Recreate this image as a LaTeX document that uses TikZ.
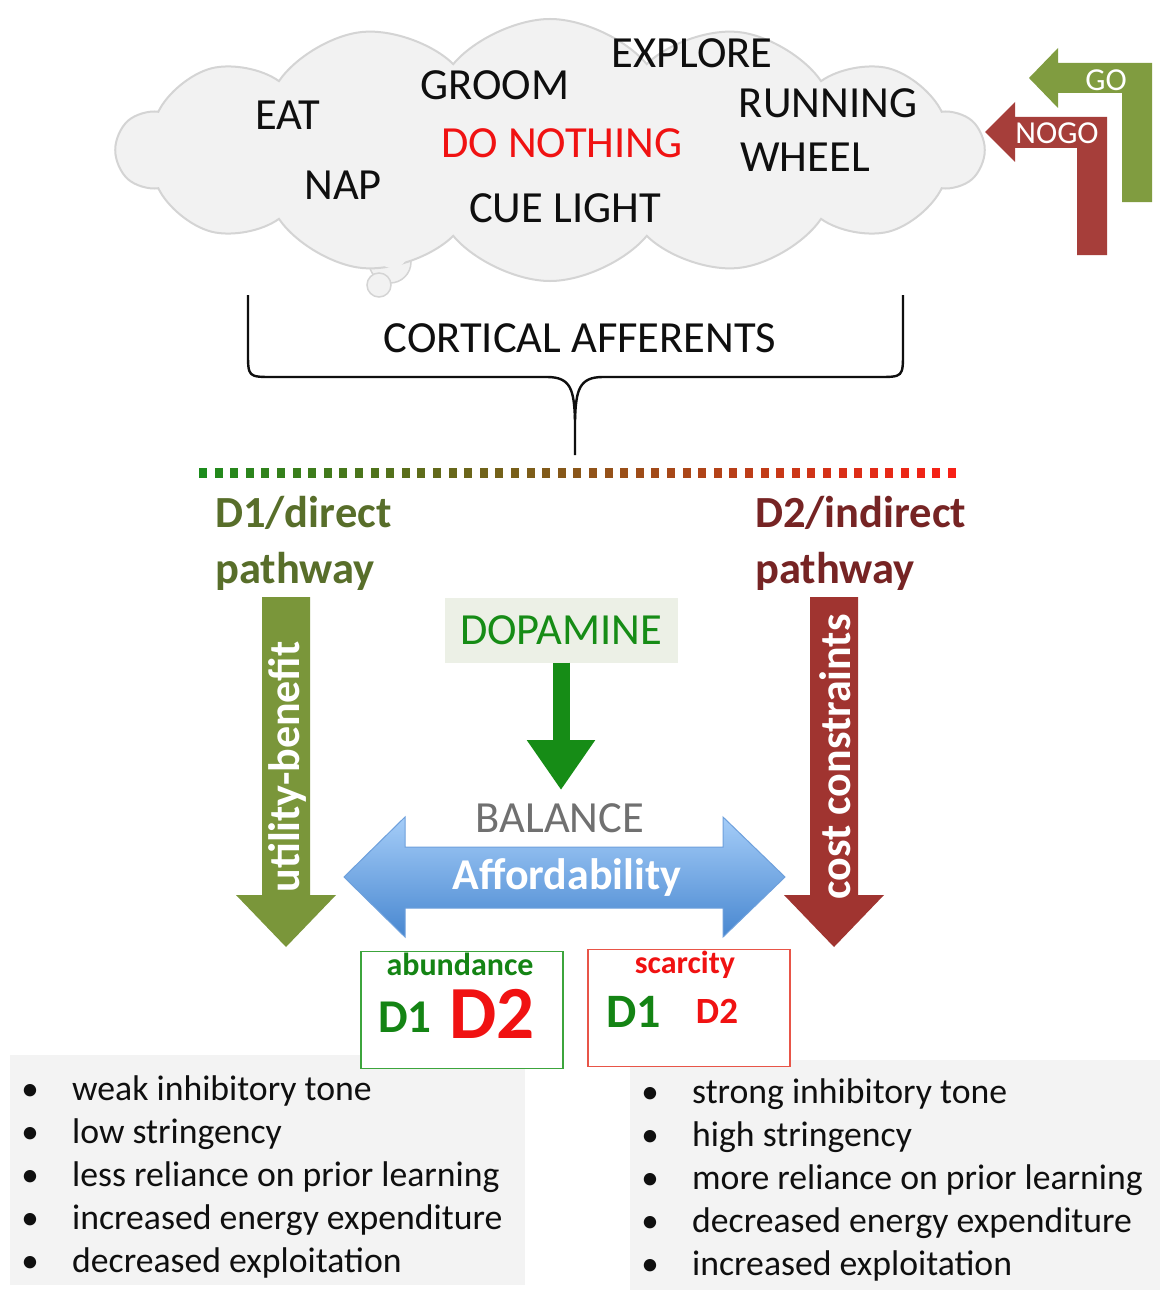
\documentclass[tikz,border=0pt]{standalone}
\usepackage{fontspec}
\setmainfont{Carlito}
\usetikzlibrary{arrows.meta,positioning,shapes.symbols}
\definecolor{ink}{RGB}{15,15,15}
\definecolor{cloudfill}{RGB}{242,242,242}
\definecolor{cloudline}{RGB}{212,212,212}
\definecolor{goG}{RGB}{128,156,64}
\definecolor{nogoR}{RGB}{166,62,58}
\definecolor{utilG}{RGB}{122,150,58}
\definecolor{costR}{RGB}{160,52,48}
\definecolor{pathG}{RGB}{88,110,42}
\definecolor{pathR}{RGB}{118,36,36}
\definecolor{dopaG}{RGB}{22,140,22}
\definecolor{dopaBox}{RGB}{236,240,230}
\definecolor{balGray}{RGB}{112,112,112}
\definecolor{affTop}{RGB}{165,205,248}
\definecolor{affBot}{RGB}{72,135,208}
\definecolor{affLine}{RGB}{110,160,220}
\definecolor{boxG}{RGB}{60,165,60}
\definecolor{boxR}{RGB}{232,85,72}
\definecolor{txtG}{RGB}{20,132,20}
\definecolor{txtR}{RGB}{240,18,18}
\definecolor{panel}{RGB}{243,243,243}
\definecolor{dotG}{RGB}{28,140,28}
\definecolor{dotR}{RGB}{248,32,22}
\tikzset{
  word/.style={font=\fontsize{44.5}{48}\selectfont,text=ink,inner sep=0pt},
  pathlbl/.style={font=\fontsize{44.5}{48}\selectfont\bfseries,inner sep=0pt,anchor=base west},
  onarrow/.style={font=\fontsize{44}{48}\selectfont\bfseries,text=white,inner sep=0pt},
  gotext/.style={font=\fontsize{32}{34}\selectfont,text=white,inner sep=0pt},
  tag/.style={font=\fontsize{32}{34}\selectfont\bfseries,inner sep=0pt,anchor=base},
  dbox/.style={draw,line width=1.6pt,fill=white,minimum width=202pt,minimum height=117pt},
  item/.style={font=\fontsize{35.7}{38}\selectfont,text=ink,inner sep=0pt,anchor=base west},
  bul/.style={font=\fontsize{35}{38}\selectfont,text=ink,inner sep=0pt,anchor=base},
  brace/.style={line width=2.4pt,ink},
  dopa arrow/.style={dopaG,line width=17pt,-{Triangle[length=50pt,width=65pt]}},
}
\begin{document}
\begin{tikzpicture}[x=1pt,y=-1pt]
  \useasboundingbox (0,0) rectangle (1171,1300);
  \fill[white] (0,0) rectangle (1171,1300);

  % thought cloud
  \fill[cloudfill,draw=cloudline,line width=1.5pt] (390,262) circle (21);
  \fill[cloudfill,draw=cloudline,line width=1.5pt] (379,285) circle (12);
  \node[cloud,cloud puffs=14,cloud puff arc=100,aspect=3.4,
    minimum width=866pt,minimum height=262pt,
    fill=cloudfill,draw=cloudline,line width=2pt] (cloud) at (550,150) {};
  \fill[cloudfill] (392,252) circle (16);

  \node[word] (eat)     at (288,115) {EAT};
  \node[word] (groom)   at (495,85)  {GROOM};
  \node[word] (explore) at (692,53)  {EXPLORE};
  \node[word] (running) at (828,103) {RUNNING};
  \node[word] (wheel)   at (805,157) {WHEEL};
  \node[word,text=txtR] (nothing) at (562,143) {DO NOTHING};
  \node[word] (nap)     at (343,185) {NAP};
  \node[word] (cue)     at (565,208) {CUE LIGHT};

  % go / nogo
  \fill[goG] (1152,63) -- (1152,202) -- (1122,202) -- (1122,93) -- (1058,93)
    -- (1058,108) -- (1029,78) -- (1058,48) -- (1058,63) -- cycle;
  \node[gotext] (go) at (1106,80) {GO};
  \fill[nogoR] (1107,117) -- (1107,255) -- (1077,255) -- (1077,148) -- (1015,148)
    -- (1015,162) -- (985,132) -- (1015,102) -- (1015,117) -- cycle;
  \node[gotext] (nogo) at (1057,133) {NOGO};

  % brace
  \node[word] (cortical) at (580,338) {CORTICAL AFFERENTS};
  \draw[brace] (248,295) -- (248,352) .. controls (248,377) .. (273,377)
    -- (547,377) .. controls (571,377) and (574,390) .. (575,420) -- (575,455);
  \draw[brace] (903,295) -- (903,352) .. controls (903,377) .. (878,377)
    -- (603,377) .. controls (579,377) and (576,390) .. (575,420);

  % dotted gradient
  \foreach \i in {0,...,48}{
    \pgfmathtruncatemacro\p{100-\i*100/48}
    \fill[dotG!\p!dotR] ({199+\i*15.6},468) rectangle ++(8,10);
  }

  % pathways
  \node[pathlbl,text=pathG] (d1a) at (215,527) {D1/direct};
  \node[pathlbl,text=pathG] (d1b) at (215,583) {pathway};
  \node[pathlbl,text=pathR] (d2a) at (755,527) {D2/indirect};
  \node[pathlbl,text=pathR] (d2b) at (755,583) {pathway};

  \fill[utilG] (262,597) -- (310,597) -- (310,895) -- (336,895) -- (286,947)
    -- (236,895) -- (262,895) -- cycle;
  \node[onarrow,rotate=90] (util) at (287,767) {utility-benefit};
  \fill[costR] (810,597) -- (858,597) -- (858,895) -- (884,895) -- (834,947)
    -- (784,895) -- (810,895) -- cycle;
  \node[onarrow,rotate=90] (cost) at (835,757) {cost constraints};

  % dopamine
  \node[fill=dopaBox,minimum width=233pt,minimum height=65pt,
    font=\fontsize{44.5}{48}\selectfont,text=dopaG] (dopa) at (561,630) {DOPAMINE};
  \coordinate (doptip) at (561,790);
  \draw[dopa arrow] (dopa) -- (doptip);
  \node[word,text=balGray] (balance) at (560,818) {BALANCE};

  % affordability
  \path[draw=affLine,line width=1pt,top color=affTop,bottom color=affBot]
    (344,877) -- (405,817) -- (405,847) -- (723,847) -- (723,817) -- (785,877)
    -- (723,937) -- (723,908) -- (405,908) -- (405,937) -- cycle;
  \node[onarrow] (afford) at (567,877) {Affordability};

  % lists
  \fill[panel] (10,1055) rectangle (525,1285);
  \fill[panel] (630,1060) rectangle (1160,1290);
  \foreach \t [count=\i] in {weak inhibitory tone,low stringency,
      less reliance on prior learning,increased energy expenditure,
      decreased exploitation}{
    \node[bul] (lb\i) at (30,{1088+43*(\i-1)+12}) {•};
    \node[item] (lt\i) at (72,{1088+43*(\i-1)+12}) {\t};
  }
  \foreach \t [count=\i] in {strong inhibitory tone,high stringency,
      more reliance on prior learning,decreased energy expenditure,
      increased exploitation}{
    \node[bul] (rb\i) at (650,{1091+43*(\i-1)+12}) {•};
    \node[item] (rt\i) at (692,{1091+43*(\i-1)+12}) {\t};
  }

  % abundance / scarcity
  \node[dbox,draw=boxG] (abund) at (462,1010) {};
  \node[tag,text=txtG] (abl) at (460,975) {abundance};
  \node[tag,font=\fontsize{47}{50}\selectfont\bfseries,text=txtG] (a1) at (405,1032) {D1};
  \node[tag,font=\fontsize{75}{78}\selectfont\bfseries,text=txtR] (a2) at (492,1038) {D2};
  \node[dbox,draw=boxR] (scarc) at (689,1008) {};
  \node[tag,text=txtR] (scl) at (685,973) {scarcity};
  \node[tag,font=\fontsize{48}{50}\selectfont\bfseries,text=txtG] (s1) at (634,1027) {D1};
  \node[tag,font=\fontsize{37}{40}\selectfont\bfseries,text=txtR] (s2) at (717,1023) {D2};
\end{tikzpicture}
\end{document}
